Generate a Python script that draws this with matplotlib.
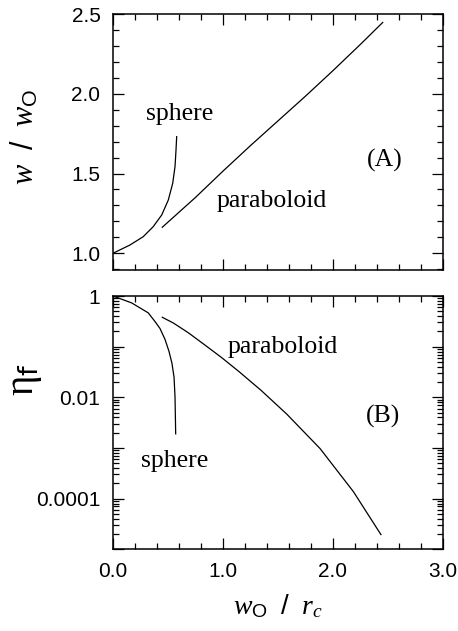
import matplotlib
matplotlib.use("Agg")
import matplotlib.pyplot as plt
from matplotlib.ticker import MultipleLocator, LogLocator, NullFormatter

# panel A: w / w0 versus w0 / rc
sph_x_a = [0.0, 0.155, 0.275, 0.366, 0.443, 0.503, 0.543, 0.564, 0.573, 0.579]
sph_y_a = [1.0, 1.052, 1.104, 1.167, 1.24, 1.334, 1.439, 1.544, 1.648, 1.731]
par_x_a = [0.448, 0.75, 1.0, 1.25, 1.5, 1.75, 2.0, 2.25, 2.452]
par_y_a = [1.163, 1.35, 1.515, 1.675, 1.83, 1.985, 2.145, 2.31, 2.447]

# panel B: eta_f versus w0 / rc (log scale)
sph_x_b = [0.0, 0.17, 0.321, 0.382, 0.427, 0.473, 0.509, 0.536, 0.555, 0.564, 0.570]
sph_y_b = [1.0, 0.73, 0.464, 0.313, 0.229, 0.139, 0.081, 0.0471, 0.025, 0.0101, 0.0019]
par_x_b = [0.448, 0.55, 0.685, 0.83, 0.988, 1.15, 1.345, 1.579, 1.882, 2.185, 2.436]
par_y_b = [0.380, 0.292, 0.188, 0.110, 0.0608, 0.0316, 0.0138, 0.00468,
           9.77e-4, 1.38e-4, 1.95e-5]

log_ticks = [1e-5, 1e-4, 1e-3, 1e-2, 1e-1, 1]
log_labels = ["", "0.0001", "", "0.01", "", "1"]

plt.rcParams["font.family"] = "Liberation Sans"
plt.rcParams["mathtext.fontset"] = "custom"
plt.rcParams["mathtext.it"] = "Liberation Serif:italic"
plt.rcParams["mathtext.rm"] = "Liberation Sans"

fig = plt.figure(figsize=(4.58, 6.31), dpi=100)
ax1 = fig.add_axes([0.2467, 0.5721, 0.7205, 0.4057])
ax2 = fig.add_axes([0.2467, 0.1295, 0.7205, 0.4014])

serif = dict(family="Liberation Serif", fontsize=18.5)

for ax in (ax1, ax2):
    for s in ax.spines.values():
        s.set_linewidth(1.1)
    ax.tick_params(which="both", direction="in", top=True, right=True,
                   width=0.9, labelsize=15, pad=9)
    ax.tick_params(which="major", length=8)
    ax.tick_params(which="minor", length=4)
    ax.set_xlim(0, 3)
    ax.xaxis.set_major_locator(MultipleLocator(1.0))
    ax.xaxis.set_minor_locator(MultipleLocator(0.2))

ax1.plot(sph_x_a, sph_y_a, color="black", lw=0.9)
ax1.plot(par_x_a, par_y_a, color="black", lw=0.9)
ax1.set_ylim(0.895, 2.5)
ax1.yaxis.set_major_locator(MultipleLocator(0.5))
ax1.yaxis.set_minor_locator(MultipleLocator(0.1))
ax1.yaxis.set_major_formatter(plt.FormatStrFormatter("%.1f"))
ax1.tick_params(axis="x", labelbottom=False)
ax1.set_ylabel(r"$w\ \ /\ \ w_{\rm O}$", fontsize=22)
ax1.yaxis.set_label_coords(-0.22, 0.52)
ax1.text(0.30, 1.836, "sphere", **serif)
ax1.text(0.945, 1.289, "paraboloid", **serif)
ax1.text(2.31, 1.543, "(A)", **serif)

ax2.plot(sph_x_b, sph_y_b, color="black", lw=0.9)
ax2.plot(par_x_b, par_y_b, color="black", lw=0.9)
ax2.set_yscale("log")
ax2.set_ylim(1.08e-5, 1)
ax2.set_yticks(log_ticks)
ax2.set_yticklabels(log_labels)
ax2.yaxis.set_minor_locator(LogLocator(base=10, subs=range(2, 10), numticks=20))
ax2.yaxis.set_minor_formatter(NullFormatter())
ax2.xaxis.set_major_formatter(plt.FormatStrFormatter("%.1f"))
ax2.set_ylabel("η$_{\\mathsf{f}}$", fontsize=28, family="Liberation Serif")
ax2.yaxis.set_label_coords(-0.21, 0.67)
ax2.set_xlabel(r"$w_{\rm O}\ \ /\ \ r_c$", fontsize=20, labelpad=8)
ax2.text(1.043, 0.0762, "paraboloid", **serif)
ax2.text(2.297, 3.13e-3, "(B)", **serif)
ax2.text(0.255, 4.24e-4, "sphere", **serif)

fig.savefig("out.png", dpi=100)
